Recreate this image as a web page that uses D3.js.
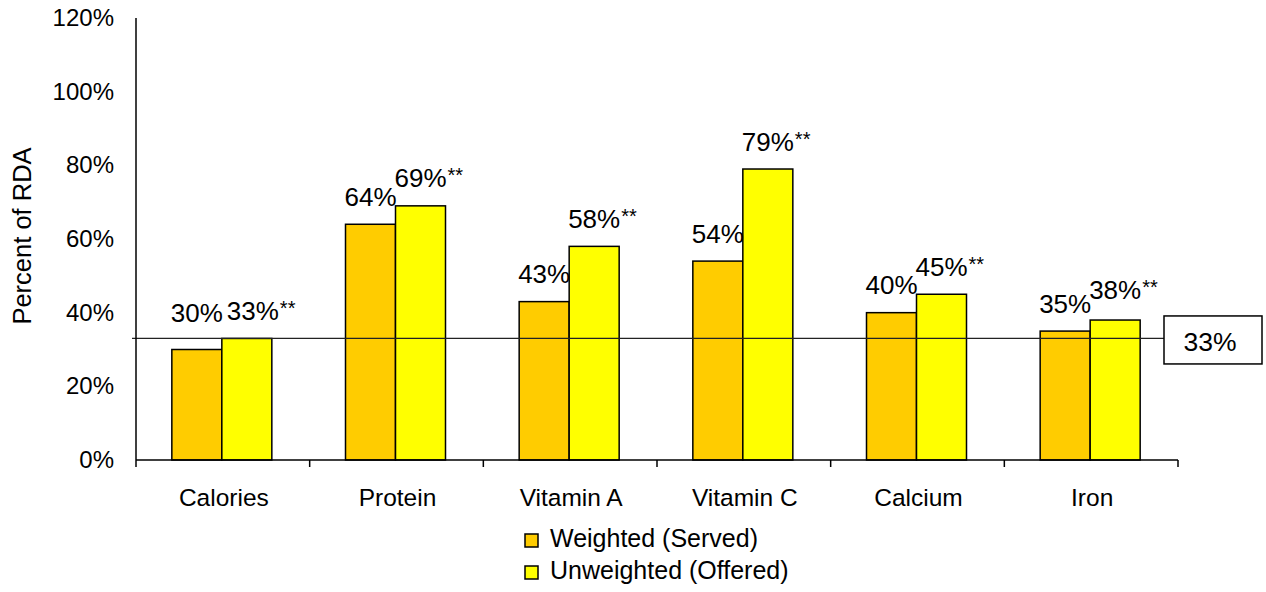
<!DOCTYPE html>
<html>
<head>
<meta charset="utf-8">
<script src="https://cdn.jsdelivr.net/npm/d3@7"></script>
<style>
  body { margin: 0; background: #fff; }
  text { font-family: "Liberation Sans", Arial, sans-serif; fill: #000; }
</style>
</head>
<body>
<div id="chart"></div>
<script>
// data
var categories = ["Calories", "Protein", "Vitamin A", "Vitamin C", "Calcium", "Iron"];
var weighted = [30, 64, 43, 54, 40, 35];
var unweighted = [33, 69, 58, 79, 45, 38];
var yTicks = [0, 20, 40, 60, 80, 100, 120];
var seriesNames = ["Weighted (Served)", "Unweighted (Offered)"];
var referenceLine = 33;

var svgWidth = 1266;
var svgHeight = 592;

var margin = { top: 18, left: 136, right: 88, bottom: 132 };
var width = svgWidth - margin.left - margin.right;
var height = svgHeight - margin.top - margin.bottom;

var colors = ["#FFCC00", "#FFFF00"];

var svg = d3.select("#chart")
    .append("svg")
    .attr("width", svgWidth)
    .attr("height", svgHeight);

var chartGroup = svg.append("g")
    .attr("transform", `translate(${margin.left}, ${margin.top})`);

// scales
var xScale = d3.scaleBand()
    .domain(categories)
    .range([0, width]);

var yScale = d3.scaleLinear()
    .domain([0, 120])
    .range([height, 0]);

var barWidth = 50;

// y tick labels (no tick marks)
chartGroup.selectAll(".ylab")
    .data(yTicks)
    .enter()
    .append("text")
    .attr("x", -22)
    .attr("y", d => yScale(d))
    .attr("dy", "0.33em")
    .attr("text-anchor", "end")
    .style("font-size", "24px")
    .text(d => d + "%");

// bars
var series = [weighted, unweighted];
series.forEach(function (vals, s) {
    chartGroup.selectAll(".bar" + s)
        .data(categories)
        .enter()
        .append("rect")
        .attr("x", d => xScale(d) + xScale.bandwidth() / 2 - barWidth - 1 + s * barWidth)
        .attr("y", (d, i) => yScale(vals[i]))
        .attr("width", barWidth)
        .attr("height", (d, i) => height - yScale(vals[i]))
        .attr("fill", colors[s])
        .attr("stroke", "#000")
        .attr("stroke-width", 1.5);
});

// reference 33% line + boxed label
var refY = yScale(referenceLine);
chartGroup.append("line")
    .attr("x1", -4)
    .attr("x2", width - 14)
    .attr("y1", refY)
    .attr("y2", refY)
    .attr("stroke", "#222")
    .attr("stroke-width", 1.2);

chartGroup.append("rect")
    .attr("x", width - 14)
    .attr("y", refY - 22.5)
    .attr("width", 98)
    .attr("height", 48)
    .attr("fill", "#fff")
    .attr("stroke", "#000")
    .attr("stroke-width", 1.5);

chartGroup.append("text")
    .attr("x", width - 14 + 46)
    .attr("y", refY + 13)
    .attr("text-anchor", "middle")
    .style("font-size", "26.5px")
    .text(referenceLine + "%");

// axes
chartGroup.append("line")
    .attr("x1", 0).attr("x2", 0)
    .attr("y1", 0).attr("y2", height + 7)
    .attr("stroke", "#000").attr("stroke-width", 1.5);

chartGroup.append("line")
    .attr("x1", 0).attr("x2", width)
    .attr("y1", height).attr("y2", height)
    .attr("stroke", "#000").attr("stroke-width", 1.5);

chartGroup.selectAll(".xtick")
    .data(categories)
    .enter()
    .append("line")
    .attr("x1", d => xScale(d) + xScale.bandwidth())
    .attr("x2", d => xScale(d) + xScale.bandwidth())
    .attr("y1", height)
    .attr("y2", height + 7)
    .attr("stroke", "#000")
    .attr("stroke-width", 1.5);

chartGroup.selectAll(".xlab")
    .data(categories)
    .enter()
    .append("text")
    .attr("x", d => xScale(d) + xScale.bandwidth() / 2 + 1)
    .attr("y", height + 45.5)
    .attr("text-anchor", "middle")
    .style("font-size", "24.5px")
    .text(d => d);

// value labels: a few were nudged in the original to clear neighbours
var nudgeY = { "0-0": -9, "1-5": -3 };
var nudgeX = { "1-0": 6 };

series.forEach(function (vals, s) {
    categories.forEach(function (c, i) {
        var key = s + "-" + i;
        var cx = xScale(c) + xScale.bandwidth() / 2 - barWidth / 2 - 1 + s * barWidth + (nudgeX[key] || 0);
        var ty = yScale(vals[i]) - 18.5 + (nudgeY[key] || 0);
        var t = chartGroup.append("text")
            .attr("x", cx)
            .attr("y", ty)
            .attr("text-anchor", "middle")
            .style("font-size", "26px")
            .text(vals[i] + "%");
        if (s === 1) {
            var w = t.node().getComputedTextLength();
            chartGroup.append("text")
                .attr("x", cx + w / 2 + 1)
                .attr("y", ty - 5)
                .style("font-size", "20px")
                .text("**");
        }
    });
});

// y axis title
svg.append("text")
    .attr("transform", "translate(31, 236) rotate(-90)")
    .attr("text-anchor", "middle")
    .style("font-size", "25.5px")
    .text("Percent of RDA");

// legend
var legend = svg.append("g")
    .attr("transform", "translate(525, 534)");

seriesNames.forEach(function (name, s) {
    legend.append("rect")
        .attr("x", 0)
        .attr("y", s * 32)
        .attr("width", 13)
        .attr("height", 13)
        .attr("fill", colors[s])
        .attr("stroke", "#000")
        .attr("stroke-width", 1.5);
    legend.append("text")
        .attr("x", 25)
        .attr("y", s * 32 + 13)
        .style("font-size", "25px")
        .text(name);
});
</script>
</body>
</html>
